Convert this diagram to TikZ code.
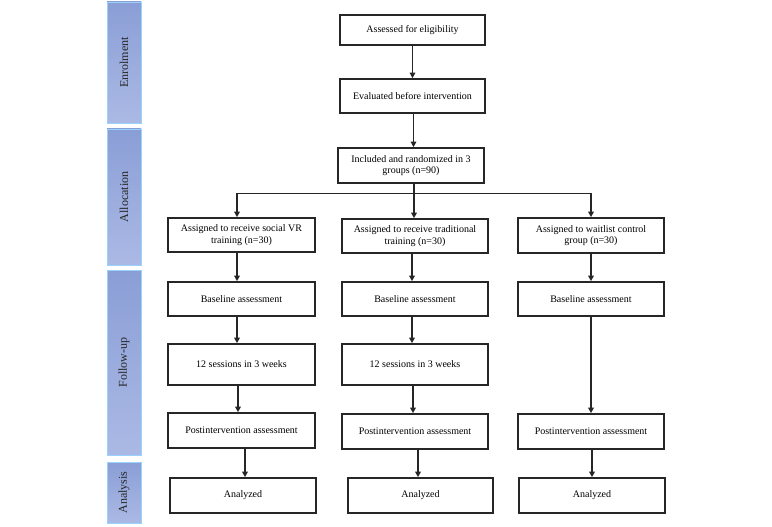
\documentclass[tikz,border=0pt]{standalone}
\usepackage{fontspec}
\setmainfont{Liberation Serif}
\usetikzlibrary{arrows.meta,calc}
\begin{document}
\begin{tikzpicture}[x=1pt,y=-1pt,
  box/.style={draw=black!85,line width=1.6pt,fill=white,inner sep=0pt,align=center,font=\fontsize{10}{11.5}\selectfont},
  phase/.style={draw=blue!45!cyan!40,line width=0.6pt,top color=phasetop,bottom color=phasebot,inner sep=0pt},
  phaselbl/.style={rotate=90,font=\fontsize{12}{14}\selectfont,text=black!85},
  arr/.style={line width=1.6pt,draw=black!85,-{Triangle[length=5.5pt,width=5.5pt]}},
  ln/.style={line width=1.6pt,draw=black!85}]
\definecolor{phasetop}{HTML}{8A9ED6}
\definecolor{phasebot}{HTML}{ABB9E4}
\useasboundingbox (0,0) rectangle (772,527);
% phase bars
\node[phase,minimum width=34pt,minimum height=121pt] (pe) at (124,62.5) {};
\node[phaselbl] (le) at (pe.center) {Enrolment};
\node[phase,minimum width=34pt,minimum height=136pt] (pa) at (124,197) {};
\node[phaselbl] (la) at (pa.center) {Allocation};
\node[phase,minimum width=34pt,minimum height=185pt] (pf) at (124,362.5) {};
\node[phaselbl] (lf) at (pf.center) {Follow-up};
\node[phase,minimum width=34pt,minimum height=61pt] (pn) at (124,492.5) {};
\node[phaselbl] (ln) at (pn.center) {Analysis};
% top boxes
\node[box,minimum width=145pt,minimum height=30pt] (as) at (412.5,30) {Assessed for eligibility};
\node[box,minimum width=145pt,minimum height=34pt] (ev) at (412.5,96) {Evaluated before intervention};
\node[box,minimum width=146pt,minimum height=35pt] (inc) at (411,165.5) {Included and randomized in 3\\groups (n=90)};
% assigned
\node[box,minimum width=147pt,minimum height=34pt] (a1) at (241.5,235) {Assigned to receive social VR\\training (n=30)};
\node[box,minimum width=146pt,minimum height=34pt] (a2) at (415,236) {Assigned to receive traditional\\training (n=30)};
\node[box,minimum width=146pt,minimum height=35pt] (a3) at (591,235.5) {Assigned to waitlist control\\group (n=30)};
% baseline
\node[box,minimum width=147pt,minimum height=34pt] (b1) at (241.5,299) {Baseline assessment};
\node[box,minimum width=146pt,minimum height=34pt] (b2) at (415,299) {Baseline assessment};
\node[box,minimum width=146pt,minimum height=34pt] (b3) at (591,299) {Baseline assessment};
% sessions
\node[box,minimum width=147pt,minimum height=41pt] (s1) at (241.5,364.5) {12 sessions in 3 weeks};
\node[box,minimum width=146pt,minimum height=41pt] (s2) at (415,364.5) {12 sessions in 3 weeks};
% post
\node[box,minimum width=147pt,minimum height=35pt] (p1) at (241.5,430.5) {Postintervention assessment};
\node[box,minimum width=146pt,minimum height=35pt] (p2) at (415,431.5) {Postintervention assessment};
\node[box,minimum width=146pt,minimum height=35pt] (p3) at (591,431.5) {Postintervention assessment};
% analyzed
\node[box,minimum width=146pt,minimum height=35pt] (n1) at (243,495.5) {Analyzed};
\node[box,minimum width=145pt,minimum height=35pt] (n2) at (420.5,495.5) {Analyzed};
\node[box,minimum width=146pt,minimum height=35pt] (n3) at (592,495.5) {Analyzed};
% arrows top
\draw[arr] (as.south) -- (as.south |- ev.north);
\draw[arr] ([xshift=1pt]ev.south) -- ([xshift=1pt]ev.south |- inc.north);
\draw[ln] ([xshift=3pt]inc.south) -- ++(0,9.5) coordinate (j);
\coordinate (j1) at ([xshift=-4.5pt]a1.north);
\coordinate (j3) at (a3.north);
\draw[ln] (j1 |- j) -- (j3 |- j);
\draw[arr] (j1 |- j) -- (j1);
\draw[arr] (j) -- (j |- a2.north);
\draw[arr] (j3 |- j) -- (j3);
% column 1
\draw[arr] ([xshift=-4.5pt]a1.south) -- ([xshift=-4.5pt]a1.south |- b1.north);
\draw[arr] ([xshift=-4.5pt]b1.south) -- ([xshift=-4.5pt]b1.south |- s1.north);
\draw[arr] ([xshift=-3.5pt]s1.south) -- ([xshift=-3.5pt]s1.south |- p1.north);
\draw[arr] ([xshift=3.5pt]p1.south) -- ([xshift=3.5pt]p1.south |- n1.north);
% column 2
\draw[arr] ([xshift=-3pt]a2.south) -- ([xshift=-3pt]a2.south |- b2.north);
\draw[arr] ([xshift=-3pt]b2.south) -- ([xshift=-3pt]b2.south |- s2.north);
\draw[arr] ([xshift=-2pt]s2.south) -- ([xshift=-2pt]s2.south |- p2.north);
\draw[arr] ([xshift=3pt]p2.south) -- ([xshift=3pt]p2.south |- n2.north);
% column 3
\draw[arr] (a3.south) -- (a3.south |- b3.north);
\draw[arr] (b3.south) -- (b3.south |- p3.north);
\draw[arr] ([xshift=1pt]p3.south) -- ([xshift=1pt]p3.south |- n3.north);
\end{tikzpicture}
\end{document}
